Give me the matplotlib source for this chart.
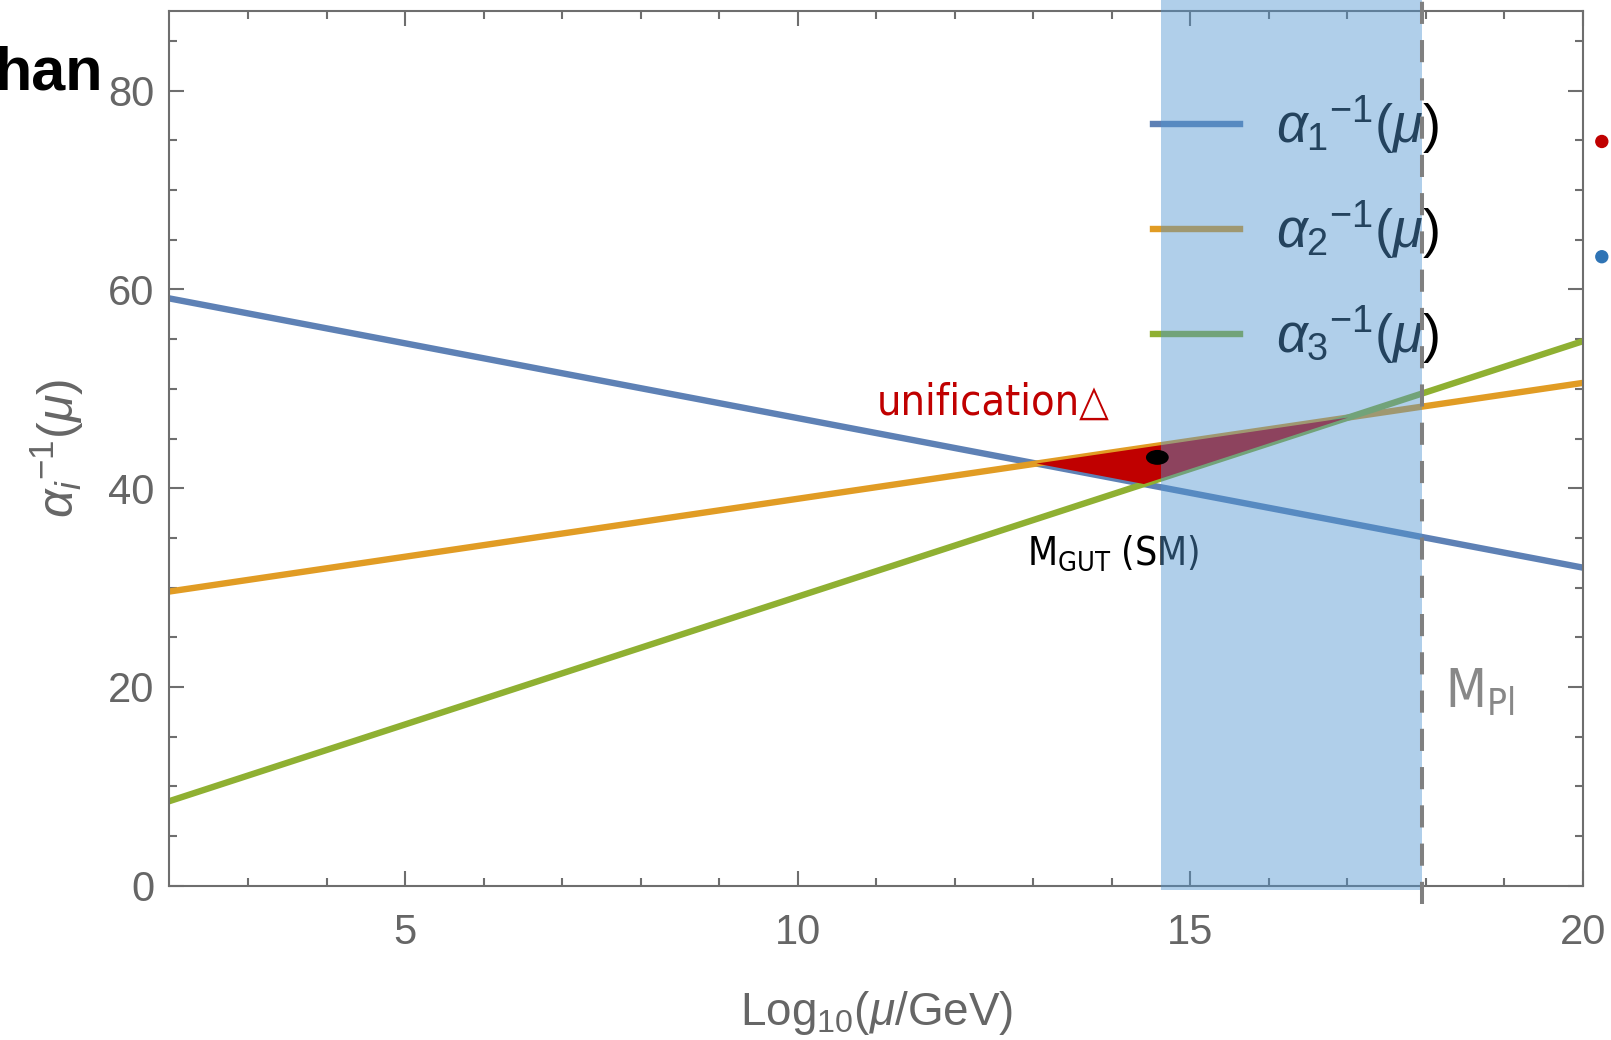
import numpy as np
import matplotlib
matplotlib.use("Agg")
import matplotlib.pyplot as plt
from matplotlib.patches import Ellipse, Polygon

plt.rcParams['font.family'] = ['Liberation Sans', 'DejaVu Sans']
plt.rcParams['mathtext.fontset'] = 'custom'
plt.rcParams['mathtext.rm'] = 'Liberation Sans'
plt.rcParams['mathtext.it'] = 'Liberation Sans:italic'
plt.rcParams['mathtext.sf'] = 'DejaVu Sans:stretch=condensed'

# running couplings, end points (log10 mu/GeV, alpha^-1)
mu = np.array([2.0, 20.0])
alpha1_inv = np.array([59.1, 32.0])
alpha2_inv = np.array([29.6, 50.6])
alpha3_inv = np.array([8.5, 54.8])

band_x = [14.63, 17.95]     # shaded region
m_pl = 17.95                # Planck scale
gut_dot = (14.58, 43.1)
side_dots_x = [20.24, 20.24]
side_dots_y = [74.9, 63.3]

blue = '#5e81b5'
orange = '#e19c24'
green = '#8fb032'
grey = '#6e6e6e'


def line(y):
    k = (y[1] - y[0]) / (mu[1] - mu[0])
    return k, y[0] - k * mu[0]


def cross(a, b):
    ka, ca = line(a)
    kb, cb = line(b)
    x = (cb - ca) / (ka - kb)
    return x, ka * x + ca


tri = [cross(alpha1_inv, alpha2_inv), cross(alpha1_inv, alpha3_inv),
       cross(alpha2_inv, alpha3_inv)]

fig = plt.figure(figsize=(16.11, 10.40), dpi=100)
ax = fig.add_axes([0.1052, 0.1485, 0.8774, 0.8406])

ax.plot(mu, alpha1_inv, color=blue, lw=4.6, label=r'$\alpha_1{}^{-1}(\mu)$', zorder=2)
ax.plot(mu, alpha2_inv, color=orange, lw=4.6, label=r'$\alpha_2{}^{-1}(\mu)$', zorder=2)
ax.plot(mu, alpha3_inv, color=green, lw=4.6, label=r'$\alpha_3{}^{-1}(\mu)$', zorder=2)

ax.add_patch(Polygon(tri, closed=True, fc='#c00000', ec='none', zorder=3))

leg = ax.legend(loc='center left', bbox_to_anchor=(0.696, 0.749), frameon=False,
                fontsize=39, handlelength=1.6, handletextpad=0.66, labelspacing=0.78,
                borderpad=0, borderaxespad=0)
leg.set_zorder(4)

ax.axvspan(band_x[0], band_x[1], ymin=-0.005, ymax=1.013, color='#5095d1', alpha=0.45,
           lw=0, clip_on=False, zorder=5)
ax.axvline(m_pl, ymin=-0.021, ymax=1.013, color='#808080', lw=2.9, dashes=(5.5, 4),
           clip_on=False, zorder=6)

ax.add_patch(Ellipse(gut_dot, 0.29, 1.5, fc='black', ec='none', zorder=7))
ax.scatter(side_dots_x, side_dots_y, s=74, c=['#c00000', '#2f74b5'], clip_on=False, zorder=7)

ax.text(11.01, 47.4, 'unification\u25b3', color='#c00000', fontsize=31,
        family='DejaVu Sans', stretch='condensed')
ax.text(12.92, 32.3, r'$\mathsf{M_{GUT}\ (SM)}$', color='black', fontsize=28)
ax.text(18.24, 17.9, r'$\mathsf{M_{Pl}}$', color='#888888', fontsize=38)

ax.set_xlim(2, 20)
ax.set_ylim(0, 88)
ax.set_xticks([5, 10, 15, 20])
ax.set_xticks(range(3, 21), minor=True)
ax.set_yticks([0, 20, 40, 60, 80])
ax.set_yticks(range(0, 88, 5), minor=True)
ax.tick_params(which='both', direction='in', top=True, right=True, color=grey,
               width=1.5, labelsize=30, labelcolor='#666666')
ax.tick_params(which='major', length=11)
ax.tick_params(which='minor', length=6)
ax.tick_params(axis='x', pad=20)
ax.tick_params(axis='y', pad=11)
for s in ax.spines.values():
    s.set_color(grey)
    s.set_linewidth(1.5)

ax.set_xlabel(r'Log$_{10}$($\mu$/GeV)', fontsize=33, color='#666666', labelpad=26)
ax.set_ylabel(r'$\alpha_i{}^{-1}(\mu)$', fontsize=36, color='#666666', labelpad=16)

fig.text(103 / 1611, 1 - 90 / 1040, 'han', ha='right', va='baseline', fontsize=44,
         fontweight='bold', color='black')

fig.savefig('out.png', dpi=100)
